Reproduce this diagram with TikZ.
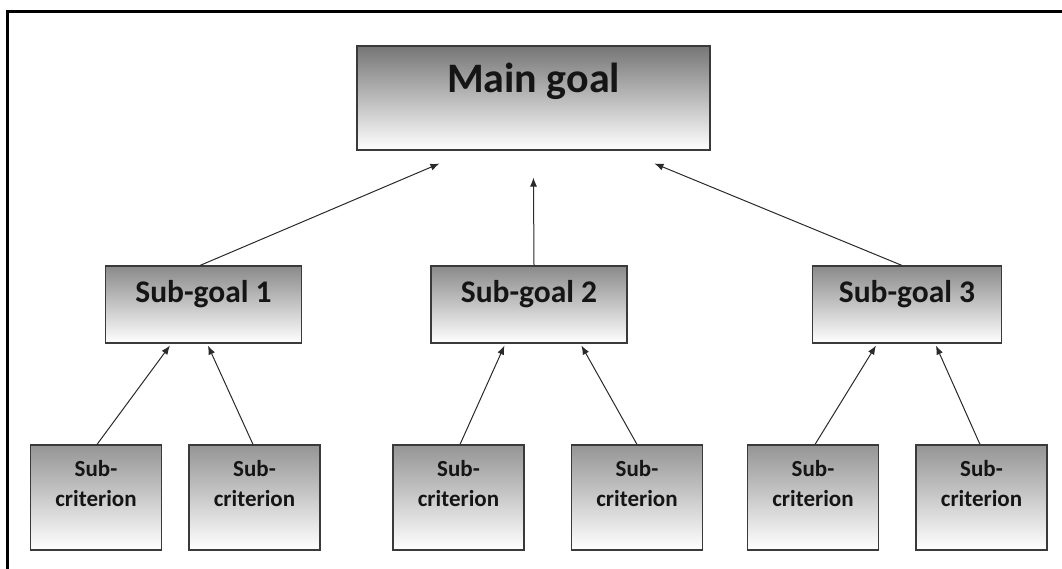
\documentclass[tikz,border=0pt]{standalone}
\usepackage{fontspec}
\setmainfont{Carlito}
\usetikzlibrary{arrows.meta,calc}
\definecolor{boxline}{HTML}{3A3A3A}
\definecolor{topmain}{HTML}{767676}
\definecolor{topsg}{HTML}{8A8A8A}
\definecolor{topsc}{HTML}{959595}
\definecolor{txt}{HTML}{151515}
\definecolor{arrcol}{HTML}{2A2A2A}
\begin{document}
\begin{tikzpicture}[x=1pt,y=-1pt,
  boxbase/.style={draw=boxline, line width=1.1pt, bottom color=white, inner sep=0pt, anchor=center},
  mainbox/.style={boxbase, top color=topmain, minimum width=353pt, minimum height=104pt},
  sgbox/.style={boxbase, top color=topsg, minimum width=196pt, minimum height=77pt},
  scbox/.style={boxbase, top color=topsc, minimum width=131pt, minimum height=105pt},
  lbl/.style={anchor=base, inner sep=0pt, text=txt, font=\bfseries},
  arr/.style={draw=arrcol, line width=1pt, -{Latex[length=9pt,width=7pt]}}
]
\useasboundingbox (0,0) rectangle (1062,569);
% frame
\draw[line width=3.5pt] (7.5,569) -- (7.5,11.5) -- (1062,11.5);

% boxes
\node[mainbox] (main) at (533.5,98) {};
\node[sgbox] (sg1) at (203.5,304.5) {};
\node[sgbox] (sg2) at (529,304.5) {};
\node[sgbox, minimum width=189pt] (sg3) at (907,304.5) {};
\node[scbox] (sc1) at (96,497.5) {};
\node[scbox] (sc2) at (254.5,497.5) {};
\node[scbox] (sc3) at (458.5,497.5) {};
\node[scbox] (sc4) at (637,497.5) {};
\node[scbox] (sc5) at (813,497.5) {};
\node[scbox] (sc6) at (981.5,497.5) {};

% labels
\node[lbl, font=\bfseries\fontsize{42}{50}\selectfont] (tmain) at ($(main.north)+(0,47)$) {Main goal};
\node[lbl, font=\bfseries\fontsize{31.5}{38}\selectfont] (tsg1) at ($(sg1.north)+(0,37)$) {Sub-goal 1};
\node[lbl, font=\bfseries\fontsize{31.5}{38}\selectfont] (tsg2) at ($(sg2.north)+(0,37)$) {Sub-goal 2};
\node[lbl, font=\bfseries\fontsize{31.5}{38}\selectfont] (tsg3) at ($(sg3.north)+(0,37)$) {Sub-goal 3};
\foreach \b in {sc1,sc2,sc3,sc4,sc5,sc6}{
  \node[lbl, font=\bfseries\fontsize{23}{28}\selectfont] (\b a) at ($(\b.north)+(0,32)$) {Sub-};
  \node[lbl, font=\bfseries\fontsize{23}{28}\selectfont] (\b b) at ($(\b.north)+(0,62)$) {criterion};
}

% connectors sub-goals -> main
\draw[arr] ($(sg1.north)+(-3.5,0)$) -- ($(main.south west)+(83,13)$);
\draw[arr] ($(sg2.north)+(5,0)$) -- ($(main.south west)+(177,27)$);
\draw[arr] ($(sg3.north)+(-5,0)$) -- ($(main.south west)+(298,13)$);

% connectors sub-criteria -> sub-goals
\draw[arr] ($(sc1.north)+(1,0)$) -- ($(sg1.south west)+(65,2)$);
\draw[arr] ($(sc2.north)+(-1.5,0)$) -- ($(sg1.south west)+(103,2)$);
\draw[arr] ($(sc3.north)+(1.5,0)$) -- ($(sg2.south west)+(74,2)$);
\draw[arr] ($(sc4.north)+(0,0)$) -- ($(sg2.south west)+(151,2)$);
\draw[arr] ($(sc5.north)+(2,0)$) -- ($(sg3.south west)+(64,2)$);
\draw[arr] ($(sc6.north)+(-1.5,0)$) -- ($(sg3.south west)+(124,2)$);
\end{tikzpicture}
\end{document}
